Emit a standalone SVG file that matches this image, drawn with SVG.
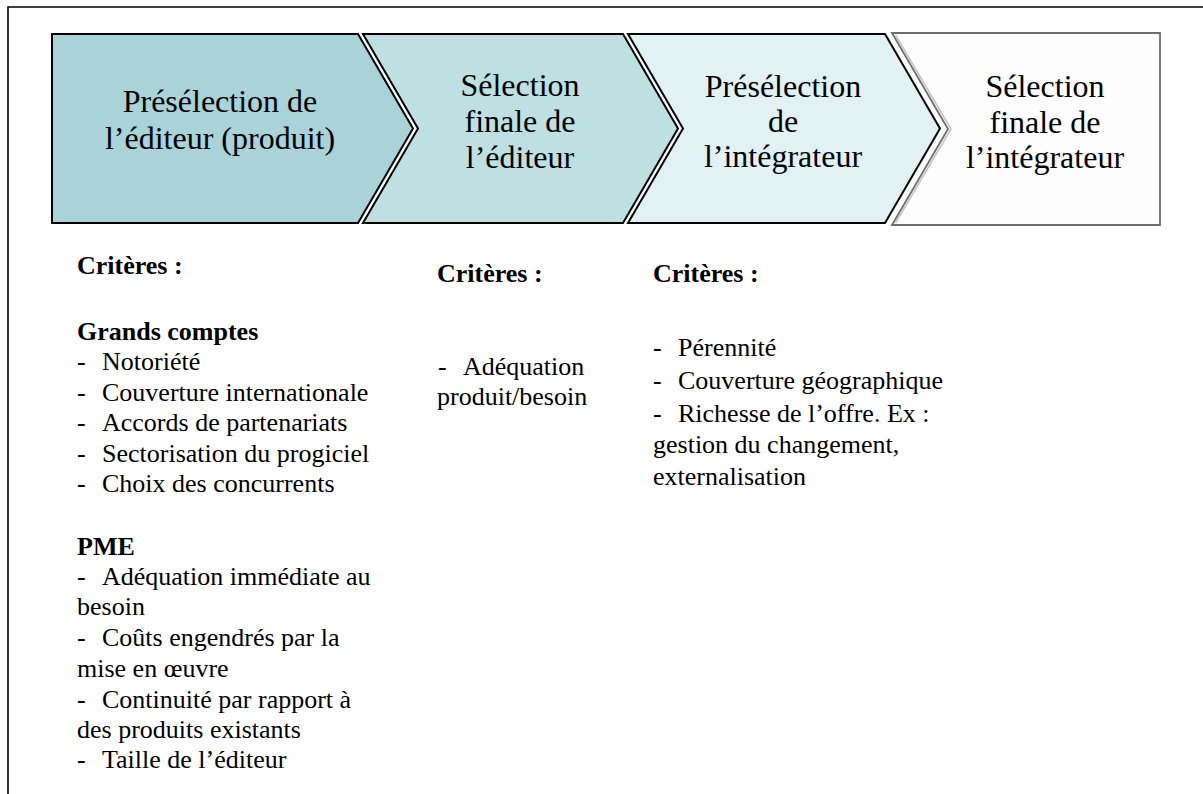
<svg xmlns="http://www.w3.org/2000/svg" width="1203" height="794" viewBox="0 0 1203 794">
  <style>
    .frame { fill: none; stroke: #000; stroke-width: 1.6; }
    .step { stroke: #000; stroke-width: 2; stroke-linejoin: miter; }
    .s1 { fill: #a9d3d9; }
    .s2 { fill: #bfe0e3; }
    .s3 { fill: #e2f1f3; }
    .s4 { fill: #fdfdfd; stroke: #6e6e6e; stroke-width: 1.8; }
    .s4in { fill: none; stroke: #c4c4c4; stroke-width: 1.5; }
    .title { font-family: "Liberation Serif", "Times New Roman", serif; font-size: 32px; fill: #000; text-anchor: middle; }
    .body { font-family: "Liberation Serif", "Times New Roman", serif; font-size: 26px; fill: #000; }
    .bold { font-weight: bold; }
  </style>

  <!-- page frame: top and left rules -->
  <path class="frame" d="M8,795 L8,7 L1204,7"/>

  <!-- process steps -->
  <g id="step1">
    <polygon class="step s1" points="52,34 358,34 413,128.5 358,223 52,223"/>
    <text class="title" x="220" y="112">Présélection de</text>
    <text class="title" x="220" y="149">l’éditeur (produit)</text>
  </g>
  <g id="step2">
    <polygon class="step s2" points="363,34 623,34 678,128.5 623,223 363,223 418,128.5"/>
    <text class="title" x="520" y="96">Sélection</text>
    <text class="title" x="520" y="132">finale de</text>
    <text class="title" x="520" y="168">l’éditeur</text>
  </g>
  <g id="step3">
    <polygon class="step s3" points="628,34 885,34 940,128.5 885,223 628,223 683,128.5"/>
    <text class="title" x="783" y="97">Présélection</text>
    <text class="title" x="783" y="132">de</text>
    <text class="title" x="783" y="167">l’intégrateur</text>
  </g>
  <g id="step4">
    <polygon class="s4" points="892,33 1160,33 1160,225 892,225 948,129"/>
    <polyline class="s4in" points="895.5,35 951,129 895.5,223"/>
    <text class="title" x="1045" y="97">Sélection</text>
    <text class="title" x="1045" y="133">finale de</text>
    <text class="title" x="1045" y="168">l’intégrateur</text>
  </g>

  <g id="connectors"/>

  <!-- criteria, column 1 -->
  <g id="criteria1" class="body">
    <text class="bold" x="77" y="274">Critères :</text>
    <text class="bold" x="77" y="340">Grands comptes</text>
    <text x="77" y="370">-</text><text x="102" y="370">Notoriété</text>
    <text x="77" y="400.5">-</text><text x="102" y="400.5">Couverture internationale</text>
    <text x="77" y="431">-</text><text x="102" y="431">Accords de partenariats</text>
    <text x="77" y="461.5">-</text><text x="102" y="461.5">Sectorisation du progiciel</text>
    <text x="77" y="492">-</text><text x="102" y="492">Choix des concurrents</text>
    <text class="bold" x="77" y="555">PME</text>
    <text x="77" y="585">-</text><text x="102" y="585">Adéquation immédiate au</text>
    <text x="77" y="615">besoin</text>
    <text x="77" y="646">-</text><text x="102" y="646">Coûts engendrés par la</text>
    <text x="77" y="677">mise en œuvre</text>
    <text x="77" y="708">-</text><text x="102" y="708">Continuité par rapport à</text>
    <text x="77" y="738">des produits existants</text>
    <text x="77" y="768">-</text><text x="102" y="768">Taille de l’éditeur</text>
  </g>

  <!-- criteria, column 2 -->
  <g id="criteria2" class="body">
    <text class="bold" x="437" y="282">Critères :</text>
    <text x="438" y="375">-</text><text x="463" y="375">Adéquation</text>
    <text x="437" y="405">produit/besoin</text>
  </g>

  <!-- criteria, column 3 -->
  <g id="criteria3" class="body">
    <text class="bold" x="653" y="282">Critères :</text>
    <text x="653" y="356">-</text><text x="678" y="356">Pérennité</text>
    <text x="653" y="389">-</text><text x="678" y="389">Couverture géographique</text>
    <text x="653" y="422">-</text><text x="678" y="422">Richesse de l’offre. Ex :</text>
    <text x="653" y="453">gestion du changement,</text>
    <text x="653" y="485">externalisation</text>
  </g>
</svg>
